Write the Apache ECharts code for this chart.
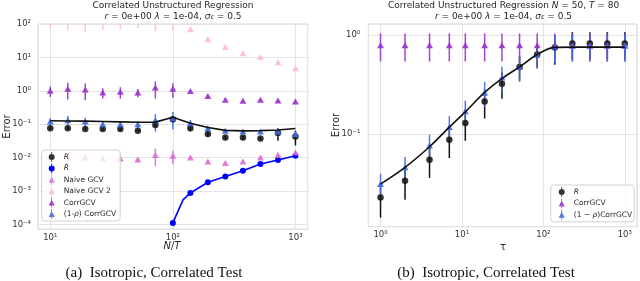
<!DOCTYPE html>
<html><head><meta charset="utf-8">
<script src="https://cdn.jsdelivr.net/npm/echarts@6/dist/echarts.min.js"></script>
<style>html,body{margin:0;padding:0;background:#fff}#c{width:640px;height:281px}</style>
</head><body><div id="c"></div>
<script>
// ---------- Left panel: Error vs N/T ----------
const nT = [10, 13.9, 19.3, 26.8, 37.3, 51.8, 72.0, 100, 139, 193, 268, 373, 518, 720, 1000];
const R_L = [0.076, 0.076, 0.072, 0.072, 0.072, 0.064, 0.095, 0.14, 0.076, 0.051, 0.040, 0.040, 0.037, 0.054, 0.043];
const R_L_err = [0.008, 0.008, 0.008, 0.008, 0.008, 0.006, 0.012, 0.03, 0.015, 0.008, 0.005, 0.005, 0.004, 0.022, 0.02];
const theoryL = [0.127, 0.125, 0.123, 0.12, 0.117, 0.114, 0.115, 0.162, 0.106, 0.079, 0.065, 0.063, 0.064, 0.067, 0.074];
const RhatX = [100, 139, 193, 268, 373, 518, 720, 1000];
const Rhat = [1.1e-4, 8.7e-4, 1.82e-3, 2.7e-3, 4.05e-3, 6.4e-3, 8.45e-3, 1.13e-2];
const RhatLineX = [100, 121, 139, 193, 268, 373, 518, 720, 1000];
const RhatLine = [1.1e-4, 5.4e-4, 8.7e-4, 1.82e-3, 2.7e-3, 4.05e-3, 6.4e-3, 8.45e-3, 1.13e-2];
const naive = [0.0105, 0.0105, 0.0101, 0.0093, 0.0093, 0.0087, 0.012, 0.0113, 0.0100, 0.0076, 0.0069, 0.0076, 0.0100, 0.0121, 0.0141];
const naive_err = [0.002, 0.003, 0.002, 0.0015, 0.0015, 0.0012, 0.0065, 0.005, 0.001, 0.0008, 0.0006, 0.0008, 0.001, 0.0015, 0.0015];
const naive2 = [112, 150, 115, 110, 110, 110, 150, 115, 70, 35, 20.6, 13.2, 10.2, 7.1, 4.7];
const naive2_err = [40, 85, 57, 45, 41, 37, 89, 50, 3, 2, 1, 0.6, 0.5, 0.3, 0.3];
const corr_L = [1.0, 1.15, 1.09, 0.89, 0.93, 0.89, 1.25, 1.15, 0.98, 0.70, 0.54, 0.50, 0.54, 0.51, 0.48];
const corr_L_err = [0.35, 0.6, 0.57, 0.3, 0.35, 0.25, 0.67, 0.53, 0.06, 0.05, 0.03, 0.03, 0.03, 0.03, 0.03];
const rcorr_L = [0.12, 0.13, 0.12, 0.10, 0.10, 0.10, 0.13, 0.15, 0.107, 0.076, 0.064, 0.060, 0.060, 0.060, 0.051];
const rcorr_L_err = [0.03, 0.045, 0.035, 0.025, 0.025, 0.025, 0.07, 0.08, 0.025, 0.012, 0.008, 0.008, 0.008, 0.017, 0.015];

// ---------- Right panel: Error vs tau ----------
const tau = [1, 2, 4, 7, 11, 19, 31, 51, 84, 138, 227, 372, 610, 1000];
const R_R = [0.0227, 0.0335, 0.0548, 0.0869, 0.129, 0.213, 0.322, 0.476, 0.636, 0.75, 0.82, 0.82, 0.82, 0.82];
const R_R_err = [0.0085, 0.012, 0.019, 0.03, 0.044, 0.07, 0.095, 0.13, 0.17, 0.25, 0.25, 0.25, 0.25, 0.25];
const theoryR = [0.031, 0.0458, 0.074, 0.117, 0.167, 0.263, 0.363, 0.476, 0.636, 0.75, 0.755, 0.755, 0.755, 0.755];
const corr_R = [0.79, 0.79, 0.79, 0.79, 0.79, 0.79, 0.79, 0.79, 0.79, 0.79, 0.79, 0.79, 0.79, 0.79];
const corr_R_err = [0.25, 0.25, 0.25, 0.25, 0.25, 0.25, 0.25, 0.25, 0.25, 0.25, 0.25, 0.25, 0.25, 0.25];
const rcorr_R = [0.031, 0.0458, 0.076, 0.117, 0.169, 0.261, 0.371, 0.476, 0.636, 0.76, 0.78, 0.78, 0.78, 0.78];
const rcorr_R_err = [0.0085, 0.0126, 0.022, 0.034, 0.048, 0.075, 0.11, 0.14, 0.18, 0.24, 0.24, 0.24, 0.24, 0.24];

// ---------- styling ----------
const C_BLACK = '#111111', C_BLUE = '#0000ff', C_ROYAL = '#4169e1', C_PURPLE = '#9932cc', C_ORCHID = '#da70d6', C_PINK = '#ffc0cb';
const FONT = 'DejaVu Sans';
const SUP = {'0':'⁰','1':'¹','2':'²','3':'³','4':'⁴','5':'⁵','6':'⁶','7':'⁷','8':'⁸','9':'⁹','-':'⁻'};
function powLabel(v) {
  const e = Math.log10(v), r = Math.round(e);
  if (Math.abs(e - r) > 1e-6) return '';
  return '10' + String(r).split('').map(c => SUP[c]).join('');
}
function axis(gi, min, max, margin) {
  return {
    type: 'log', logBase: 10, gridIndex: gi, min: min, max: max,
    axisLine: {show: false}, axisTick: {show: false}, minorTick: {show: false},
    splitLine: {show: true, lineStyle: {color: '#e3e3e3', width: 1}},
    axisLabel: {formatter: powLabel, fontSize: 8.5, color: '#333', fontFamily: FONT, margin: margin}
  };
}
const series = [];
function errBars(gi, xs, vs, es, color, lw, op) {
  series.push({
    type: 'custom', xAxisIndex: gi, yAxisIndex: gi, silent: true,
    data: xs.map((x, i) => [x, Math.max(vs[i] - es[i], 1e-9), vs[i] + es[i]]),
    encode: {x: 0, y: [1, 2]},
    renderItem: function (params, api) {
      const x = api.value(0);
      const p1 = api.coord([x, api.value(2)]), p2 = api.coord([x, api.value(1)]);
      const cs = params.coordSys;
      const y1 = Math.max(p1[1], cs.y), y2 = Math.min(p2[1], cs.y + cs.height);
      if (!(y2 > y1)) return null;
      return {type: 'line', shape: {x1: p1[0], y1: y1, x2: p1[0], y2: y2},
        style: {stroke: color, lineWidth: lw, opacity: op}};
    }
  });
}
function marks(gi, name, xs, vs, symbol, size, color, op) {
  series.push({
    type: 'scatter', name: name, xAxisIndex: gi, yAxisIndex: gi, symbol: symbol, symbolSize: size,
    data: xs.map((x, i) => [x, vs[i]]), itemStyle: {color: color, opacity: op}, clip: true
  });
}
function line(gi, name, xs, vs, color, lw, smooth) {
  series.push({
    type: 'line', name: name, xAxisIndex: gi, yAxisIndex: gi, showSymbol: false, symbol: 'none',
    smooth: smooth, data: xs.map((x, i) => [x, vs[i]]), lineStyle: {color: color, width: lw}, itemStyle: {color: color}
  });
}
// left panel
line(0, 'thL', nT, theoryL, C_BLACK, 1.6, false);
errBars(0, nT, R_L, R_L_err, C_BLACK, 1.5, 1);
marks(0, 'R_L', nT, R_L, 'circle', 6.5, C_BLACK, 0.85);
line(0, 'RhL', RhatLineX, RhatLine, C_BLUE, 1.6, false);
marks(0, 'Rh_L', RhatX, Rhat, 'circle', 6, C_BLUE, 1);
errBars(0, nT, naive, naive_err, C_ORCHID, 1.5, 0.9);
marks(0, 'NG_L', nT, naive, 'triangle', [7, 6], C_ORCHID, 0.9);
errBars(0, nT, naive2, naive2_err, C_PINK, 1.5, 0.9);
marks(0, 'NG2_L', nT, naive2, 'triangle', [7, 6], C_PINK, 0.95);
errBars(0, nT, corr_L, corr_L_err, C_PURPLE, 1.5, 0.9);
marks(0, 'CG_L', nT, corr_L, 'triangle', [7, 6], C_PURPLE, 0.9);
errBars(0, nT, rcorr_L, rcorr_L_err, C_ROYAL, 1.5, 0.9);
marks(0, 'RCG_L', nT, rcorr_L, 'triangle', [7, 6], C_ROYAL, 0.9);
// right panel
line(1, 'thR', tau, theoryR, C_BLACK, 1.6, 0.35);
errBars(1, tau, R_R, R_R_err, C_BLACK, 1.5, 1);
marks(1, 'R_R', tau, R_R, 'circle', 6.5, C_BLACK, 0.85);
errBars(1, tau, corr_R, corr_R_err, C_PURPLE, 1.5, 0.9);
marks(1, 'CG_R', tau, corr_R, 'triangle', [7, 6], C_PURPLE, 0.9);
errBars(1, tau, rcorr_R, rcorr_R_err, C_ROYAL, 1.5, 0.9);
marks(1, 'RCG_R', tau, rcorr_R, 'triangle', [7, 6], C_ROYAL, 0.9);

const LABELS = {
  R_L: '{i|R}', Rh_L: '{i|R\u0302}', NG_L: 'Naive GCV', NG2_L: 'Naive GCV 2', CG_L: 'CorrGCV', RCG_L: '(1-{i|ρ}) CorrGCV',
  R_R: '{i|R}', CG_R: 'CorrGCV', RCG_R: '(1 − {i|ρ})CorrGCV'
};
const ICON_C = 'path://M4.6,0L5.4,0L5.4,10L4.6,10Z M8,5A3,3 0 1 1 2,5A3,3 0 1 1 8,5Z';
const ICON_T = 'path://M4.6,0L5.4,0L5.4,10L4.6,10Z M5,2L8,8L2,8Z';
function legend(left, top, names, pad) {
  return {
    orient: 'vertical', left: left, top: top, itemWidth: 6, itemHeight: 10, itemGap: 1.4,
    padding: pad, backgroundColor: 'rgba(255,255,255,0.8)', borderColor: '#d0d0d0', borderWidth: 1, borderRadius: 3,
    selectedMode: false, formatter: n => LABELS[n],
    textStyle: {fontSize: 7.5, fontFamily: FONT, color: '#262626', padding: [0, 0, 0, 4],
      rich: {i: {fontStyle: 'italic', fontSize: 7.5, fontFamily: FONT, color: '#262626'}}},
    data: names.map(n => ({name: n, icon: n.startsWith('R_') || n.startsWith('Rh') ? ICON_C : ICON_T}))
  };
}
function txt(x, y, text, extra, rot) {
  const fs = (extra && extra.fontSize) || 9;
  const el = {type: 'text', x: x, y: y, silent: true,
    style: Object.assign({text: text, align: 'center', verticalAlign: 'middle', fontSize: fs, fontFamily: FONT, fill: '#262626',
      rich: {i: {fontStyle: 'italic', fontSize: fs, fontFamily: FONT},
             s: {fontStyle: 'italic', fontSize: 6.5, fontFamily: FONT, verticalAlign: 'bottom', lineHeight: 6}}}, extra || {})};
  if (rot) el.rotation = rot;
  return el;
}
const option = {
  animation: false,
  grid: [
    {left: 38, top: 24, width: 269.7, height: 205, show: true, borderColor: '#d6d6d6', borderWidth: 1, backgroundColor: 'transparent'},
    {left: 368.3, top: 24, width: 270.7, height: 202.7, show: true, borderColor: '#d6d6d6', borderWidth: 1, backgroundColor: 'transparent'}
  ],
  xAxis: [axis(0, Math.pow(10, 0.9), Math.pow(10, 3.1), 4), axis(1, Math.pow(10, -0.15), Math.pow(10, 3.15), 4)],
  yAxis: [axis(0, Math.pow(10, -4.14), 100, 7), axis(1, Math.pow(10, -1.94), Math.pow(10, 0.112), 8)],
  legend: [legend(41.7, 150, ['R_L', 'Rh_L', 'NG_L', 'NG2_L', 'CG_L', 'RCG_L'], [2, 4, 2, 7]),
           legend(550.7, 185, ['R_R', 'CG_R', 'RCG_R'], [2, 2, 2, 8])],
  graphic: [
    txt(173, 6, 'Correlated Unstructured Regression'),
    txt(173, 16.5, '{i|r} = 0e+00 {i|λ} = 1e-04, {i|σ}{s|ε} = 0.5'),
    txt(503.5, 6, 'Correlated Unstructured Regression {i|N} = 50, {i|T} = 80'),
    txt(503.5, 16.5, '{i|r} = 0e+00 {i|λ} = 1e-04, {i|σ}{s|ε} = 0.5'),
    txt(7, 126.5, 'Error', {fontSize: 10}, Math.PI / 2),
    txt(336, 125, 'Error', {fontSize: 10}, Math.PI / 2),
    txt(172, 246, '{i|N}/{i|T}', {fontSize: 10}),
    txt(503, 247, 'τ', {fontSize: 10}),
    txt(154, 273, '(a)  Isotropic, Correlated Test', {fontSize: 15, fontFamily: 'Liberation Serif', fill: '#111'}),
    txt(486, 273, '(b)  Isotropic, Correlated Test', {fontSize: 15, fontFamily: 'Liberation Serif', fill: '#111'})
  ],
  series: series
};
const chart = echarts.init(document.getElementById('c'), null, {renderer: 'canvas'});
chart.setOption(option);
</script></body></html>
